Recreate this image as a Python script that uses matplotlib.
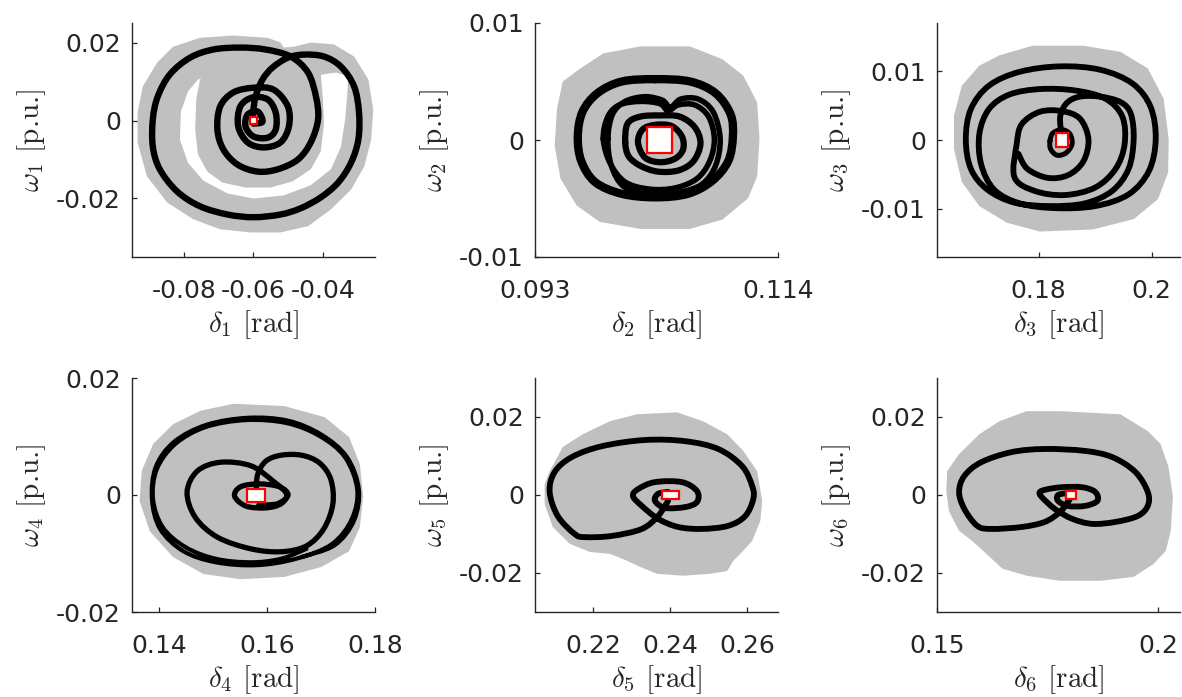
import numpy as np
import matplotlib
matplotlib.use('Agg')
import matplotlib.pyplot as plt
from matplotlib.patches import Rectangle, PathPatch
from matplotlib.path import Path

plt.rcParams['font.family'] = ['DejaVu Sans']
plt.rcParams['mathtext.fontset'] = 'cm'

GREY = '#c0c0c0'
AXC = '#262626'

# ---------------- panel 1 ----------------
reach1_outer = [(-0.0832, 0.0189), (-0.0754, 0.0212), (-0.0658, 0.0218), (-0.0559, 0.0212),
                (-0.0522, 0.0200), (-0.0513, 0.0187), (-0.0484, 0.0189), (-0.0435, 0.0200),
                (-0.0368, 0.0195), (-0.0310, 0.0164), (-0.0269, 0.0105), (-0.0255, 0.0028),
                (-0.0261, -0.0049), (-0.0281, -0.0118), (-0.0319, -0.0177), (-0.0377, -0.0228),
                (-0.0443, -0.0271), (-0.0522, -0.0287), (-0.0609, -0.0287), (-0.0696, -0.0279),
                (-0.0774, -0.0253), (-0.0849, -0.0210), (-0.0907, -0.0143), (-0.0934, -0.0056),
                (-0.0934, 0.0020), (-0.0919, 0.0087), (-0.0878, 0.0148)]
reach1_gap = [(-0.0760, 0.0105), (-0.0789, 0.0074), (-0.0809, 0.0023), (-0.0812, -0.0049),
              (-0.0789, -0.0108), (-0.0745, -0.0154), (-0.0675, -0.0187), (-0.0600, -0.0200),
              (-0.0513, -0.0192), (-0.0435, -0.0166), (-0.0377, -0.0125), (-0.0348, -0.0067),
              (-0.0336, 0.0003), (-0.0330, 0.0067), (-0.0327, 0.0113), (-0.0362, 0.0123),
              (-0.0400, 0.0118), (-0.0580, 0.0084), (-0.0745, 0.0110)]
reach1_inner = [(-0.0754, 0.0105), (-0.0765, 0.0054), (-0.0768, -0.0023), (-0.0760, -0.0087),
                (-0.0733, -0.0131), (-0.0690, -0.0159), (-0.0623, -0.0172), (-0.0551, -0.0172),
                (-0.0487, -0.0156), (-0.0435, -0.0125), (-0.0406, -0.0079), (-0.0397, -0.0010),
                (-0.0400, 0.0054), (-0.0406, 0.0118), (-0.0464, 0.0156), (-0.0609, 0.0161),
                (-0.0710, 0.0143)]
traj1 = [(-0.0603, 0.0010), (-0.0594, 0.0061), (-0.0574, 0.0105), (-0.0545, 0.0136),
         (-0.0501, 0.0161), (-0.0455, 0.0169), (-0.0397, 0.0164), (-0.0348, 0.0138),
         (-0.0310, 0.0087), (-0.0296, 0.0020), (-0.0298, -0.0049), (-0.0319, -0.0108),
         (-0.0356, -0.0159), (-0.0406, -0.0197), (-0.0464, -0.0225), (-0.0522, -0.0241),
         (-0.0600, -0.0248), (-0.0675, -0.0241), (-0.0754, -0.0220), (-0.0820, -0.0182),
         (-0.0870, -0.0125), (-0.0890, -0.0067), (-0.0890, 0.0003), (-0.0876, 0.0061),
         (-0.0841, 0.0118), (-0.0783, 0.0161), (-0.0716, 0.0182), (-0.0638, 0.0187),
         (-0.0565, 0.0182), (-0.0493, 0.0164), (-0.0443, 0.0123), (-0.0420, 0.0061),
         (-0.0414, 0.0003), (-0.0435, -0.0056), (-0.0472, -0.0100), (-0.0530, -0.0125),
         (-0.0588, -0.0131), (-0.0646, -0.0113), (-0.0687, -0.0074), (-0.0704, -0.0023),
         (-0.0696, 0.0036), (-0.0658, 0.0072), (-0.0600, 0.0084), (-0.0542, 0.0079),
         (-0.0501, 0.0036), (-0.0498, -0.0015), (-0.0522, -0.0056), (-0.0571, -0.0069),
         (-0.0617, -0.0056), (-0.0644, -0.0015), (-0.0638, 0.0036), (-0.0603, 0.0059),
         (-0.0559, 0.0054), (-0.0536, 0.0020), (-0.0536, -0.0023), (-0.0559, -0.0044),
         (-0.0600, -0.0041), (-0.0623, -0.0015), (-0.0617, 0.0015), (-0.0588, 0.0023),
         (-0.0574, -0.0003), (-0.0600, -0.0008)]
box1 = (-0.0601, -0.0001, 0.0020, 0.0018)

# ---------------- panel 2 ----------------
reach2 = [(0.0969, 0.0061), (0.0989, 0.0074), (0.1021, 0.0080), (0.1064, 0.0080),
          (0.1092, 0.0069), (0.1110, 0.0055), (0.1122, 0.0032), (0.1124, 0.0001),
          (0.1122, -0.0031), (0.1114, -0.0050), (0.1092, -0.0068), (0.1064, -0.0076),
          (0.1021, -0.0076), (0.0986, -0.0070), (0.0966, -0.0056), (0.0952, -0.0033),
          (0.0947, -0.0005), (0.0949, 0.0027), (0.0954, 0.0050)]
traj2_a = [(0.1034, 0.0052), (0.1064, 0.0050), (0.1086, 0.0040), (0.1099, 0.0022),
           (0.1101, 0.0003), (0.1097, -0.0018), (0.1083, -0.0035), (0.1062, -0.0046),
           (0.1034, -0.0049), (0.1005, -0.0046), (0.0982, -0.0036), (0.0970, -0.0018),
           (0.0967, 0.0003), (0.0971, 0.0024), (0.0984, 0.0040), (0.1005, 0.0050),
           (0.1034, 0.0052)]
traj2_e = [(0.0993, 0.0001), (0.0997, 0.0022), (0.1008, 0.0033), (0.1025, 0.0037),
           (0.1040, 0.0034), (0.1047, 0.0028), (0.1056, 0.0035), (0.1071, 0.0035),
           (0.1084, 0.0024), (0.1090, 0.0001), (0.1086, -0.0022), (0.1074, -0.0038),
           (0.1053, -0.0045), (0.1029, -0.0046), (0.1007, -0.0040), (0.0996, -0.0022),
           (0.0993, 0.0001)]
traj2_b = [(0.0989, 0.0001), (0.0993, 0.0020), (0.1003, 0.0030), (0.1021, 0.0033),
           (0.1038, 0.0031), (0.1045, 0.0025), (0.1054, 0.0030), (0.1068, 0.0030),
           (0.1080, 0.0020), (0.1085, 0.0001), (0.1081, -0.0018), (0.1070, -0.0033),
           (0.1051, -0.0041), (0.1029, -0.0042), (0.1008, -0.0036), (0.0995, -0.0020),
           (0.0989, 0.0001)]
traj2_c = [(0.1008, -0.0002), (0.1010, 0.0014), (0.1021, 0.0020), (0.1038, 0.0021),
           (0.1055, 0.0020), (0.1068, 0.0011), (0.1073, -0.0003), (0.1067, -0.0018),
           (0.1054, -0.0026), (0.1036, -0.0027), (0.1021, -0.0022), (0.1011, -0.0014),
           (0.1008, -0.0002)]
traj2_d = [(0.1019, -0.0002), (0.1023, 0.0009), (0.1034, 0.0013), (0.1048, 0.0012),
           (0.1057, 0.0003), (0.1058, -0.0008), (0.1051, -0.0016), (0.1038, -0.0019),
           (0.1025, -0.0015), (0.1019, -0.0002)]
box2 = (0.1038, 0.0000, 0.00216, 0.00214)

# ---------------- panel 3 ----------------
reach3 = [(0.1730, 0.0123), (0.1789, 0.0137), (0.1879, 0.0137), (0.1945, 0.0128),
          (0.1993, 0.0104), (0.2021, 0.0060), (0.2030, 0.0001), (0.2029, -0.0047),
          (0.2011, -0.0086), (0.1968, -0.0115), (0.1896, -0.0130), (0.1802, -0.0133),
          (0.1743, -0.0120), (0.1695, -0.0096), (0.1664, -0.0061), (0.1650, -0.0013),
          (0.1650, 0.0035), (0.1664, 0.0079), (0.1695, 0.0108)]
traj3 = [(0.1841, 0.0004), (0.1838, 0.0034), (0.1850, 0.0054), (0.1873, 0.0063),
         (0.1909, 0.0063), (0.1945, 0.0055), (0.1963, 0.0038), (0.1968, 0.0001),
         (0.1959, -0.0042), (0.1930, -0.0074), (0.1882, -0.0092), (0.1820, -0.0096),
         (0.1757, -0.0091), (0.1709, -0.0072), (0.1680, -0.0042), (0.1671, 0.0001),
         (0.1680, 0.0045), (0.1712, 0.0079), (0.1766, 0.0099), (0.1838, 0.0107),
         (0.1909, 0.0102), (0.1966, 0.0082), (0.1998, 0.0048), (0.2007, 0.0001),
         (0.1995, -0.0045), (0.1959, -0.0079), (0.1900, -0.0096), (0.1829, -0.0099),
         (0.1766, -0.0092), (0.1721, -0.0072), (0.1698, -0.0035), (0.1695, 0.0009),
         (0.1712, 0.0045), (0.1748, 0.0066), (0.1802, 0.0074), (0.1864, 0.0072),
         (0.1918, 0.0060), (0.1948, 0.0034), (0.1952, -0.0006), (0.1936, -0.0042),
         (0.1900, -0.0069), (0.1846, -0.0080), (0.1793, -0.0074), (0.1757, -0.0054),
         (0.1761, -0.0006), (0.1770, 0.0023), (0.1802, 0.0041), (0.1841, 0.0042),
         (0.1873, 0.0031), (0.1888, 0.0001), (0.1879, -0.0031), (0.1852, -0.0051),
         (0.1816, -0.0055), (0.1780, -0.0042), (0.1764, -0.0020)]
traj3_inner = [(0.1820, -0.0001), (0.1825, 0.0010), (0.1841, 0.0015), (0.1855, 0.0009),
               (0.1859, -0.0006), (0.1848, -0.0019), (0.1832, -0.0022), (0.1821, -0.0013),
               (0.1820, -0.0001)]
box3 = (0.1841, 0.0000, 0.0021, 0.0020)

# ---------------- panel 4 ----------------
reach4 = [(0.1477, 0.0144), (0.1538, 0.0156), (0.1632, 0.0152), (0.1707, 0.0133),
          (0.1752, 0.0099), (0.1772, 0.0053), (0.1778, -0.0003), (0.1772, -0.0055),
          (0.1752, -0.0096), (0.1701, -0.0123), (0.1632, -0.0140), (0.1551, -0.0144),
          (0.1482, -0.0135), (0.1426, -0.0106), (0.1383, -0.0062), (0.1364, -0.0010),
          (0.1368, 0.0041), (0.1389, 0.0087), (0.1426, 0.0121)]
traj4_a = [(0.1580, 0.0010), (0.1583, 0.0036), (0.1598, 0.0058), (0.1626, 0.0068),
           (0.1664, 0.0068), (0.1697, 0.0055), (0.1718, 0.0027), (0.1722, -0.0015),
           (0.1705, -0.0058), (0.1673, -0.0087), (0.1626, -0.0097), (0.1570, -0.0092),
           (0.1508, -0.0072), (0.1467, -0.0038), (0.1452, 0.0005), (0.1471, 0.0041),
           (0.1514, 0.0056), (0.1570, 0.0050), (0.1611, 0.0024), (0.1636, 0.0002),
           (0.1626, -0.0015), (0.1598, -0.0022), (0.1561, -0.0019), (0.1540, -0.0002),
           (0.1551, 0.0014), (0.1585, 0.0019), (0.1623, 0.0014), (0.1639, 0.0000),
           (0.1619, -0.0015), (0.1585, -0.0017)]
traj4_b = [(0.1673, -0.0092), (0.1626, -0.0109), (0.1570, -0.0115), (0.1505, -0.0109),
           (0.1449, -0.0089), (0.1407, -0.0055), (0.1389, -0.0007), (0.1396, 0.0044),
           (0.1430, 0.0087), (0.1486, 0.0116), (0.1561, 0.0128), (0.1636, 0.0123),
           (0.1697, 0.0101), (0.1744, 0.0065), (0.1767, 0.0010), (0.1757, -0.0041),
           (0.1720, -0.0084), (0.1654, -0.0109), (0.1580, -0.0120), (0.1505, -0.0115),
           (0.1445, -0.0096), (0.1402, -0.0058), (0.1387, -0.0007), (0.1394, 0.0048),
           (0.1428, 0.0091), (0.1488, 0.0120), (0.1565, 0.0132), (0.1639, 0.0127),
           (0.1701, 0.0103), (0.1748, 0.0065), (0.1770, 0.0010), (0.1761, -0.0044),
           (0.1725, -0.0086), (0.1664, -0.0106)]
box4 = (0.1580, -0.0001, 0.0034, 0.0022)

# ---------------- panel 5 ----------------
reach5 = [(0.2088, 0.0061), (0.2122, 0.0123), (0.2174, 0.0156), (0.2244, 0.0189),
          (0.2314, 0.0207), (0.2418, 0.0212), (0.2486, 0.0189), (0.2548, 0.0156),
          (0.2590, 0.0113), (0.2626, 0.0061), (0.2639, -0.0015), (0.2634, -0.0067),
          (0.2613, -0.0118), (0.2582, -0.0151), (0.2564, -0.0169), (0.2548, -0.0195),
          (0.2504, -0.0202), (0.2434, -0.0207), (0.2366, -0.0202), (0.2322, -0.0184),
          (0.2278, -0.0164), (0.2244, -0.0151), (0.2192, -0.0146), (0.2140, -0.0125),
          (0.2096, -0.0082), (0.2075, -0.0023), (0.2075, 0.0028)]
traj5 = [(0.2395, -0.0015), (0.2369, -0.0054), (0.2327, -0.0087), (0.2249, -0.0105),
         (0.2179, -0.0108), (0.2153, -0.0100), (0.2109, -0.0054), (0.2088, 0.0008),
         (0.2101, 0.0059), (0.2145, 0.0097), (0.2223, 0.0125), (0.2335, 0.0141),
         (0.2439, 0.0138), (0.2525, 0.0118), (0.2587, 0.0074), (0.2613, 0.0023),
         (0.2616, -0.0010), (0.2595, -0.0054), (0.2551, -0.0079), (0.2483, -0.0087),
         (0.2421, -0.0082), (0.2369, -0.0061), (0.2327, -0.0028), (0.2304, -0.0003),
         (0.2317, 0.0015), (0.2361, 0.0033), (0.2431, 0.0033), (0.2470, 0.0010),
         (0.2470, -0.0018), (0.2439, -0.0031), (0.2387, -0.0033), (0.2361, -0.0015),
         (0.2369, 0.0003), (0.2395, 0.0008)]
box5 = (0.2402, 0.0000, 0.0044, 0.0020)

# ---------------- panel 6 ----------------
reach6 = [(0.1523, 0.0061), (0.1550, 0.0105), (0.1596, 0.0156), (0.1641, 0.0189),
          (0.1703, 0.0215), (0.1778, 0.0215), (0.1915, 0.0207), (0.1977, 0.0164),
          (0.2006, 0.0131), (0.2024, 0.0072), (0.2034, -0.0005), (0.2029, -0.0092),
          (0.2018, -0.0143), (0.1990, -0.0177), (0.1945, -0.0210), (0.1869, -0.0220),
          (0.1778, -0.0220), (0.1703, -0.0207), (0.1648, -0.0189), (0.1612, -0.0151),
          (0.1580, -0.0118), (0.1550, -0.0092), (0.1527, -0.0041), (0.1521, 0.0010)]
traj6 = [(0.1801, -0.0010), (0.1796, -0.0018), (0.1778, -0.0044), (0.1744, -0.0069),
         (0.1692, -0.0082), (0.1623, -0.0087), (0.1591, -0.0079), (0.1562, -0.0036),
         (0.1550, 0.0008), (0.1562, 0.0049), (0.1600, 0.0084), (0.1669, 0.0110),
         (0.1744, 0.0118), (0.1835, 0.0113), (0.1897, 0.0097), (0.1949, 0.0059),
         (0.1977, 0.0008), (0.1977, -0.0028), (0.1954, -0.0054), (0.1904, -0.0069),
         (0.1851, -0.0074), (0.1806, -0.0061), (0.1767, -0.0036), (0.1737, -0.0005),
         (0.1733, 0.0008), (0.1751, 0.0015), (0.1783, 0.0020), (0.1828, 0.0020),
         (0.1858, 0.0008), (0.1863, -0.0015), (0.1835, -0.0028), (0.1796, -0.0028),
         (0.1774, -0.0015), (0.1774, 0.0000), (0.1796, 0.0005)]
box6 = (0.1803, 0.0000, 0.0023, 0.0022)

# ---------------- axes settings ----------------
xlims = [(-0.095, -0.025), (0.093, 0.114), (0.162, 0.205),
         (0.135, 0.18), (0.205, 0.268), (0.15, 0.205)]
ylims = [(-0.035, 0.025), (-0.01, 0.01), (-0.017, 0.017),
         (-0.02, 0.02), (-0.03, 0.03), (-0.03, 0.03)]
xticks = [[-0.08, -0.06, -0.04], [0.093, 0.114], [0.18, 0.2],
          [0.14, 0.16, 0.18], [0.22, 0.24, 0.26], [0.15, 0.2]]
xticklabels = [['-0.08', '-0.06', '-0.04'], ['0.093', '0.114'], ['0.18', '0.2'],
               ['0.14', '0.16', '0.18'], ['0.22', '0.24', '0.26'], ['0.15', '0.2']]
yticks = [[-0.02, 0, 0.02], [-0.01, 0, 0.01], [-0.01, 0, 0.01],
          [-0.02, 0, 0.02], [-0.02, 0, 0.02], [-0.02, 0, 0.02]]
yticklabels = [['-0.02', '0', '0.02'], ['-0.01', '0', '0.01'], ['-0.01', '0', '0.01'],
               ['-0.02', '0', '0.02'], ['-0.02', '0', '0.02'], ['-0.02', '0', '0.02']]

fills = [[(reach1_outer, GREY), (reach1_gap, 'white'), (reach1_inner, GREY)],
         [(reach2, GREY)], [(reach3, GREY)], [(reach4, GREY)], [(reach5, GREY)], [(reach6, GREY)]]
trajs = [[traj1], [traj2_a, traj2_e, traj2_b, traj2_c, traj2_d], [traj3, traj3_inner],
         [traj4_b, traj4_a], [traj5], [traj6]]
widths = [[4.6], [6.0, 4.0, 4.0, 4.5, 4.5], [4.2, 3.6], [3.0, 3.8], [4.2], [4.2]]
boxes = [box1, box2, box3, box4, box5, box6]


def smooth_path(pts):
    """Smooth Bezier path through the read points (Catmull-Rom tangents)."""
    P = np.asarray(pts, dtype=float)
    n = len(P)
    closed = np.allclose(P[0], P[-1])
    verts = [P[0]]
    codes = [Path.MOVETO]
    for i in range(n - 1):
        if i > 0:
            p0 = P[i - 1]
        else:
            p0 = P[-2] if closed else P[0]
        p1, p2 = P[i], P[i + 1]
        if i + 2 < n:
            p3 = P[i + 2]
        else:
            p3 = P[1] if closed else P[-1]
        verts += [p1 + (p2 - p0) / 6.0, p2 - (p3 - p1) / 6.0, p2]
        codes += [Path.CURVE4] * 3
    return Path(verts, codes)


fig = plt.figure(figsize=(11.82, 6.97), dpi=100)
lefts = [132, 535, 937]
tops = [23, 378]
W, H = 243, 234
for i in range(6):
    r, c = divmod(i, 3)
    ax = fig.add_axes([lefts[c] / 1182, 1 - (tops[r] + H) / 697, W / 1182, H / 697])
    for poly, col in fills[i]:
        xs, ys = zip(*poly)
        ax.fill(xs, ys, color=col, lw=0, zorder=1)
    for tr, lw in zip(trajs[i], widths[i]):
        ax.add_patch(PathPatch(smooth_path(tr), facecolor='none', edgecolor='black',
                               lw=lw, joinstyle='round', capstyle='round', zorder=2))
    cx, cy, w, h = boxes[i]
    ax.add_patch(Rectangle((cx - w / 2, cy - h / 2), w, h, facecolor='white',
                           edgecolor='red', lw=1.6, zorder=3))
    ax.set_xlim(*xlims[i])
    ax.set_ylim(*ylims[i])
    ax.set_xticks(xticks[i])
    ax.set_xticklabels(xticklabels[i])
    ax.set_yticks(yticks[i])
    ax.set_yticklabels(yticklabels[i])
    for s in ['top', 'right']:
        ax.spines[s].set_visible(False)
    for s in ['left', 'bottom']:
        ax.spines[s].set_color(AXC)
        ax.spines[s].set_linewidth(1.0)
    ax.tick_params(direction='in', length=3.5, width=0.9, colors=AXC,
                   labelsize=18)
    ax.tick_params(axis='x', pad=16)
    ax.tick_params(axis='y', pad=8)
    n = i + 1
    ax.set_xlabel(r'$\delta_%d$ [rad]' % n, fontsize=21, color=AXC, fontfamily='cmr10')
    ax.set_ylabel(r'$\omega_%d$ [p.u.]' % n, fontsize=21, color=AXC, fontfamily='cmr10')
    ax.xaxis.label.set_va('center')
    ax.yaxis.label.set_va('center')
    ax.xaxis.set_label_coords(0.5, -68 / H)
    ax.yaxis.set_label_coords(-100 / W, 0.5)

fig.savefig('out.png', dpi=100)
